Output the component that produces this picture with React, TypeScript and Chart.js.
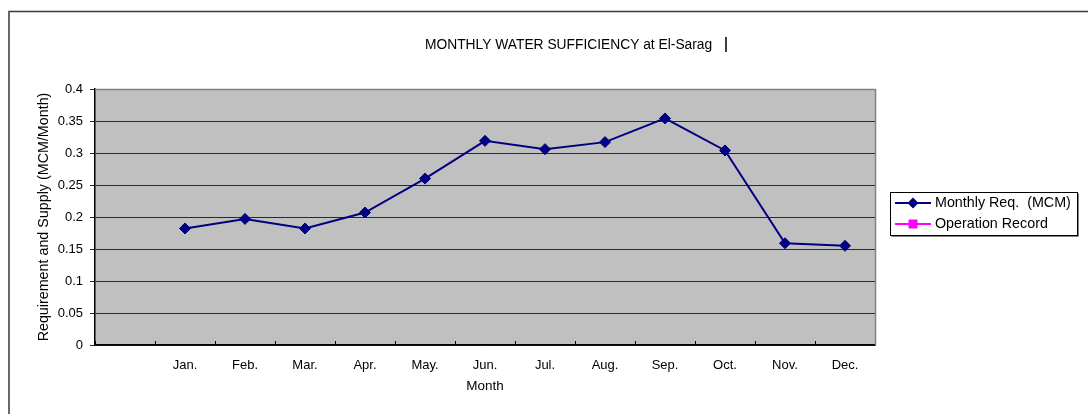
import React, { useEffect, useRef } from "react";
import { Chart, registerables } from "chart.js";

Chart.register(...registerables);

const months = ["Jan.", "Feb.", "Mar.", "Apr.", "May.", "Jun.", "Jul.", "Aug.", "Sep.", "Oct.", "Nov.", "Dec."];
const monthlyReq = [0.182, 0.197, 0.182, 0.207, 0.26, 0.319, 0.306, 0.317, 0.354, 0.304, 0.159, 0.155];
const operationRecord: (number | null)[] = [null, null, null, null, null, null, null, null, null, null, null, null];
const yTicks = [0, 0.05, 0.1, 0.15, 0.2, 0.25, 0.3, 0.35, 0.4];

const chartTitle = "MONTHLY WATER SUFFICIENCY at El-Sarag";
const xTitle = "Month";
const yTitle = "Requirement and Supply (MCM/Month)";
const seriesNames = ["Monthly Req.  (MCM)", "Operation Record"];

const FONT = "'Liberation Sans', Arial, sans-serif";

export default function App() {
  const ref = useRef<HTMLCanvasElement | null>(null);

  useEffect(() => {
    const canvas = ref.current;
    if (!canvas) return;

    const labels = ["", ...months];

    const framePlugin = {
      id: "frame",
      beforeDraw(chart: any) {
        const { ctx, chartArea } = chart;
        ctx.save();
        ctx.fillStyle = "#C0C0C0";
        ctx.fillRect(chartArea.left, chartArea.top, chartArea.right - chartArea.left, chartArea.bottom - chartArea.top);
        ctx.restore();
      },
      afterDraw(chart: any) {
        const { ctx, chartArea } = chart;
        ctx.save();
        // plot border top/right gray
        ctx.strokeStyle = "#808080";
        ctx.lineWidth = 1.5;
        ctx.beginPath();
        ctx.moveTo(chartArea.left, chartArea.top + 0.5);
        ctx.lineTo(chartArea.right + 0.5, chartArea.top + 0.5);
        ctx.lineTo(chartArea.right + 0.5, chartArea.bottom);
        ctx.stroke();

        // outer frame
        ctx.strokeStyle = "#3a3a3a";
        ctx.lineWidth = 1.5;
        ctx.strokeRect(9, 11.5, 1100, 500);

        // title
        ctx.fillStyle = "#000";
        ctx.font = `13.8px ${FONT}`;
        ctx.textAlign = "left";
        ctx.textBaseline = "middle";
        ctx.fillText(chartTitle, 425, 45);
        ctx.strokeStyle = "#000";
        ctx.lineWidth = 1.5;
        ctx.beginPath();
        ctx.moveTo(726, 37);
        ctx.lineTo(726, 52);
        ctx.stroke();

        // legend
        const lx = 890, ly = 192, lw = 187, lh = 43;
        ctx.fillStyle = "#fff";
        ctx.fillRect(lx, ly, lw, lh);
        ctx.strokeStyle = "#000";
        ctx.lineWidth = 1;
        ctx.strokeRect(lx + 0.5, ly + 0.5, lw, lh);
        ctx.strokeStyle = "#808080";
        ctx.beginPath();
        ctx.moveTo(lx + 1.5, ly + lh + 1.5);
        ctx.lineTo(lx + lw + 1.5, ly + lh + 1.5);
        ctx.lineTo(lx + lw + 1.5, ly + 1.5);
        ctx.stroke();

        chart.data.datasets.forEach((ds: any, i: number) => {
          const y = ly + 11 + i * 21;
          ctx.strokeStyle = ds.borderColor;
          ctx.lineWidth = 2;
          ctx.beginPath();
          ctx.moveTo(lx + 5, y);
          ctx.lineTo(lx + 41, y);
          ctx.stroke();
          ctx.fillStyle = ds.pointBackgroundColor;
          const cx = lx + 23;
          if (ds.pointStyle === "rectRot") {
            ctx.beginPath();
            ctx.moveTo(cx, y - 5.5);
            ctx.lineTo(cx + 5.5, y);
            ctx.lineTo(cx, y + 5.5);
            ctx.lineTo(cx - 5.5, y);
            ctx.closePath();
            ctx.fill();
          } else {
            ctx.fillRect(cx - 4.5, y - 4.5, 9, 9);
          }
          ctx.fillStyle = "#000";
          ctx.font = `14.3px ${FONT}`;
          ctx.textAlign = "left";
          ctx.textBaseline = "middle";
          ctx.fillText(ds.label, lx + 45, y);
        });
        ctx.restore();
      },
    };

    const chart = new Chart(canvas, {
      type: "line",
      data: {
        labels,
        datasets: [
          {
            label: seriesNames[0],
            data: [null, ...monthlyReq],
            borderColor: "#000080",
            backgroundColor: "#000080",
            pointBackgroundColor: "#000080",
            pointBorderColor: "#000080",
            pointStyle: "rectRot",
            pointRadius: 5.5,
            pointBorderWidth: 1,
            borderWidth: 2,
            tension: 0,
          },
          {
            label: seriesNames[1],
            data: [null, ...operationRecord],
            borderColor: "#FF00FF",
            backgroundColor: "#FF00FF",
            pointBackgroundColor: "#FF00FF",
            pointBorderColor: "#FF00FF",
            pointStyle: "rect",
            pointRadius: 4,
            borderWidth: 2,
          },
        ],
      },
      options: {
        responsive: false,
        animation: false,
        devicePixelRatio: 1,
        layout: { padding: { left: 0, top: 89, right: 213, bottom: 0 } },
        plugins: {
          legend: { display: false },
          title: { display: false },
          tooltip: { enabled: false },
        },
        scales: {
          x: {
            type: "category",
            offset: true,
            grid: {
              offset: true,
              drawOnChartArea: false,
              color: "#000",
              tickLength: -4,
            },
            border: { color: "#000", width: 1.5 },
            ticks: {
              color: "#000",
              font: { family: FONT, size: 13 },
              padding: 17,
              maxRotation: 0,
              autoSkip: false,
            },
            title: {
              display: true,
              text: xTitle,
              color: "#000",
              font: { family: FONT, size: 13.5 },
              padding: { top: 0, bottom: 20 },
            },
            afterFit(scale: any) {
              scale.height = 69;
            },
          },
          y: {
            min: 0,
            max: 0.4,
            afterBuildTicks(scale: any) {
              scale.ticks = yTicks.map((v) => ({ value: v }));
            },
            grid: {
              color: "#2a2a2a",
              tickLength: 5,
            },
            border: { color: "#000", width: 1.5 },
            ticks: {
              color: "#000",
              font: { family: FONT, size: 13 },
              padding: 7,
              callback: (v: any) => String(Number(Number(v).toFixed(2))),
            },
            title: {
              display: true,
              text: yTitle,
              color: "#000",
              font: { family: FONT, size: 14.3 },
              padding: { top: 35, bottom: 0 },
            },
            afterFit(scale: any) {
              scale.width = 95;
            },
          },
        },
      } as any,
      plugins: [framePlugin],
    });

    return () => chart.destroy();
  }, []);

  return (
    <div style={{ position: "absolute", left: 0, top: 0, width: 1088, height: 414 }}>
      <canvas ref={ref} width={1088} height={414} style={{ width: 1088, height: 414, display: "block" }} />
    </div>
  );
}
